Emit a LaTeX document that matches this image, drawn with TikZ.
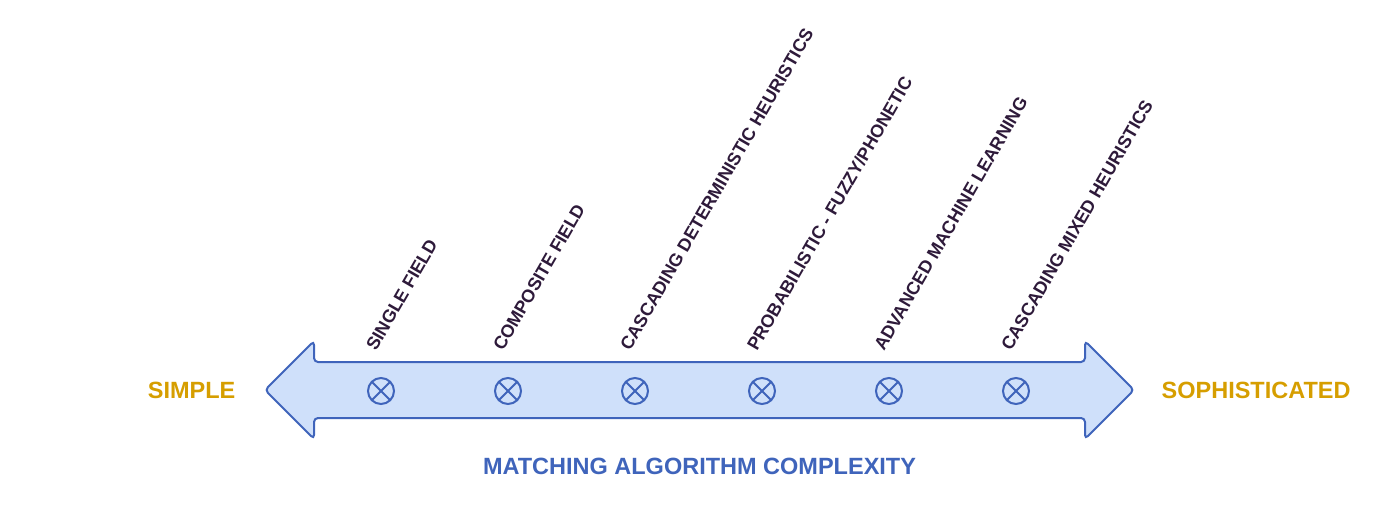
\documentclass[tikz,border=0pt]{standalone}
\usepackage{fontspec}
\setmainfont{Liberation Sans}
\definecolor{AxisBlue}{RGB}{63, 100, 187}
\definecolor{AxisFill}{RGB}{207, 224, 250}
\definecolor{EndGold}{RGB}{214, 158, 0}
\definecolor{LabelInk}{RGB}{46, 26, 58}
\usetikzlibrary{arrows.meta, positioning, shapes.arrows, calc}
\tikzset{
  axisarrow/.style={double arrow, draw=#1, fill=#1!25, line width=2pt,
                    rounded corners=4pt, double arrow head extend=21pt,
                    double arrow head indent=0pt, inner xsep=0pt, inner ysep=27pt,
                    minimum height=869pt},
  probe/.style={circle, draw=#1, line width=2pt, minimum size=26pt,
                inner sep=0pt, outer sep=0pt,
                path picture={\draw[#1, line width=2pt]
                  (path picture bounding box.north west) -- (path picture bounding box.south east)
                  (path picture bounding box.north east) -- (path picture bounding box.south west);}},
  endlbl/.style={font=\fontsize{23.5}{28}\selectfont\bfseries, text=#1, inner sep=0pt},
  steplbl/.style={font=\fontsize{18}{21}\selectfont\bfseries, text=#1, inner sep=0pt,
                  rotate=60, anchor=base west},
}
\begin{document}
\begin{tikzpicture}[x=1pt, y=1pt, node distance=101pt]
  \useasboundingbox (0,0) rectangle (1400,520);

  \node[axisarrow=AxisBlue, fill=AxisFill] (axis) at (699.5,130) {};

  \node[probe=AxisBlue] (m1) at (381,129) {};
  \node[probe=AxisBlue, right=of m1] (m2) {};
  \node[probe=AxisBlue, right=of m2] (m3) {};
  \node[probe=AxisBlue, right=of m3] (m4) {};
  \node[probe=AxisBlue, right=of m4] (m5) {};
  \node[probe=AxisBlue, right=of m5] (m6) {};

  \node[steplbl=LabelInk] (l1) at ($(m1)+(-5,39)$) {SINGLE FIELD};
  \node[steplbl=LabelInk] (l2) at ($(m2)+(-5,39)$) {COMPOSITE FIELD};
  \node[steplbl=LabelInk] (l3) at ($(m3)+(-5,39)$) {CASCADING DETERMINISTIC HEURISTICS};
  \node[steplbl=LabelInk] (l4) at ($(m4)+(-5,39)$) {PROBABILISTIC - FUZZY/PHONETIC};
  \node[steplbl=LabelInk] (l5) at ($(m5)+(-5,39)$) {ADVANCED MACHINE LEARNING};
  \node[steplbl=LabelInk] (l6) at ($(m6)+(-5,39)$) {CASCADING MIXED HEURISTICS};

  \node[endlbl=EndGold, left=28pt of axis] (simple) {SIMPLE};
  \node[endlbl=EndGold, right=26pt of axis] (soph) {SOPHISTICATED};
  \node[endlbl=AxisBlue, below=39pt of axis] (title) {MATCHING ALGORITHM COMPLEXITY};
\end{tikzpicture}
\end{document}
